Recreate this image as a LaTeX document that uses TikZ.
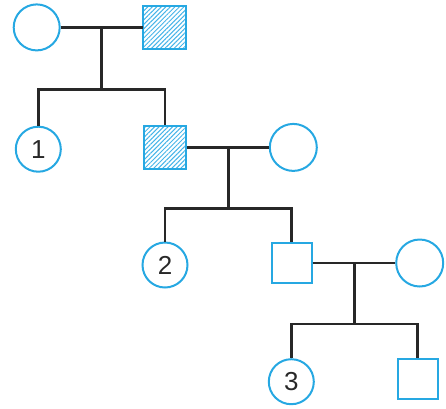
\documentclass[tikz,border=0pt]{standalone}
\usepackage{fontspec}
\setmainfont{Liberation Sans}
\usetikzlibrary{patterns.meta}
\definecolor{pedblue}{RGB}{38,168,226}
\definecolor{hatchblue}{RGB}{70,180,232}
\definecolor{linegray}{RGB}{40,40,40}
\begin{document}
\begin{tikzpicture}[x=1pt,y=-1pt,
  female/.style={circle,draw=pedblue,line width=2pt,minimum size=45pt,inner sep=0pt,
    font=\fontsize{26}{26}\selectfont,text=linegray},
  male/.style={rectangle,draw=pedblue,line width=2pt,minimum size=40pt,inner sep=0pt},
  affected/.style={male,minimum size=42.5pt,
    pattern={Lines[angle=45,distance=3.2pt,line width=1pt]},pattern color=hatchblue},
  link/.style={draw=linegray,line width=2.5pt,line join=miter,line cap=rect}]
\useasboundingbox (0,0) rectangle (446,408);

% generation I
\node[female,minimum size=46pt] (g1f) at (36.7,27.4) {};
\node[affected] (g1m) at (164.5,27.4) {};
% generation II
\node[female] (c1) at (38.3,149.2) {1};
\node[affected] (g2m) at (165,147.4) {};
\node[female,minimum size=47pt] (g2f) at (293.3,147.4) {};
% generation III
\node[female] (c2) at (165,265) {2};
\node[male] (g3m) at (291.7,263) {};
\node[female,minimum size=47pt] (g3f) at (419.7,263) {};
% generation IV
\node[female] (c3) at (291.3,381.7) {3};
\node[male] (g4m) at (417.5,379.2) {};

% marriage and descent points
\coordinate (m1) at (101.7,27.4);
\coordinate (s1) at (101.7,89.3);
\coordinate (m2) at (228.3,147.4);
\coordinate (s2) at (228.3,208.3);
\coordinate (m3) at (354.3,263);
\coordinate (s3) at (354.3,324);

% couple I
\draw[link,line width=3pt,line cap=butt] (g1f.east) -- (g1m.west);
\draw[link,line cap=butt] (m1) -- (s1);
\draw[link,line cap=butt] (c1.north) |- (s1) -| (g2m.north);
% couple II
\draw[link,line cap=butt] (g2m.east) -- (g2f.west);
\draw[link,line cap=butt] (m2) -- (s2);
\draw[link,line cap=butt] (c2.north) |- (s2) -| (g3m.north);
% couple III
\draw[link,line cap=butt] (g3m.east) -- (g3f.west);
\draw[link,line cap=butt] (m3) -- (s3);
\draw[link,line cap=butt] (c3.north) |- (s3) -| (g4m.north);
\end{tikzpicture}
\end{document}
